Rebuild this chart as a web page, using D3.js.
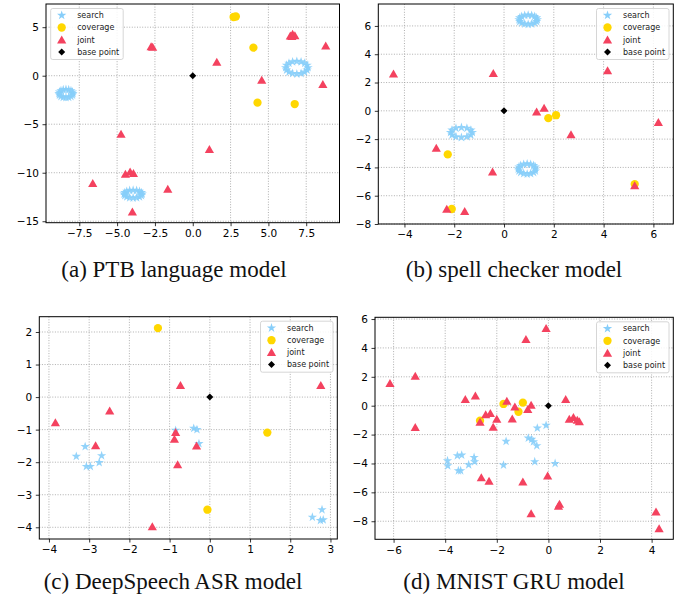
<!DOCTYPE html>
<html>
<head>
  <meta charset="utf-8">
  <title>adversarial search scatter</title>
  <script src="https://d3js.org/d3.v7.min.js"></script>
  <style>
    body { margin: 0; background: #fff; }
    .tick text { font-family: "DejaVu Sans", sans-serif; font-size: 10.5px; fill: #000; }
    .tick line { stroke: #000; stroke-width: 0.8; }
    .grid line { stroke: #9a9a9a; stroke-width: 0.8; stroke-dasharray: 1,1.6; }
    .legend text { font-family: "DejaVu Sans", sans-serif; font-size: 8px; fill: #222; }
    .caption { font-family: "Liberation Serif", serif; font-size: 23px; fill: #111; }
  </style>
</head>
<body>
<svg id="chart" width="681" height="597"></svg>
<script>
  // legend / series names
  var seriesNames = ["search", "coverage", "joint", "base point"];
  var basePoint = [[0, 0]];

  // (a) PTB language model
  var ptbSearch = [
    [-7.92, -1.84], [-7.95, -1.68], [-8.05, -1.54], [-8.20, -1.45], [-8.38, -1.42], [-8.56, -1.45],
    [-8.71, -1.54], [-8.81, -1.68], [-8.84, -1.84], [-8.81, -2.00], [-8.71, -2.14], [-8.56, -2.23],
    [-8.38, -2.26], [-8.20, -2.23], [-8.05, -2.14], [-7.95, -2.00],
    [7.62, 0.83], [7.56, 1.08], [7.40, 1.29], [7.16, 1.43], [6.88, 1.48], [6.60, 1.43],
    [6.36, 1.29], [6.20, 1.08], [6.14, 0.83], [6.20, 0.58], [6.36, 0.37], [6.60, 0.23],
    [6.88, 0.18], [7.16, 0.23], [7.40, 0.37], [7.56, 0.58],
    [-3.34, -12.20], [-3.39, -12.05], [-3.52, -11.92], [-3.71, -11.83], [-3.94, -11.80], [-4.17, -11.83],
    [-4.36, -11.92], [-4.49, -12.05], [-4.54, -12.20], [-4.49, -12.35], [-4.36, -12.48], [-4.17, -12.57],
    [-3.94, -12.60], [-3.71, -12.57], [-3.52, -12.48], [-3.39, -12.35]
  ];
  var ptbCoverage = [[2.70, 6.05], [2.85, 6.10], [4.01, 2.89], [4.28, -2.78], [6.74, -2.92]];
  var ptbJoint = [
    [-2.75, 3.00], [-2.65, 2.95], [1.59, 1.41], [4.56, -0.45],
    [6.45, 4.10], [6.60, 4.30], [6.75, 4.15], [6.55, 4.05],
    [8.79, 3.09], [8.60, -0.89], [-4.74, -6.01], [1.10, -7.59],
    [-4.45, -10.14], [-4.14, -9.90], [-3.92, -10.07], [-6.61, -11.10],
    [-1.65, -11.68], [-3.99, -14.02]
  ];
  var ptbXTicks = [-7.5, -5, -2.5, 0, 2.5, 5, 7.5];
  var ptbYTicks = [-15, -10, -5, 0, 5];

  // (b) spell checker model
  var spellSearch = [
    [1.34, 6.44], [1.31, 6.57], [1.23, 6.67], [1.11, 6.75], [0.97, 6.77], [0.83, 6.75],
    [0.71, 6.67], [0.63, 6.57], [0.60, 6.44], [0.63, 6.31], [0.71, 6.21], [0.83, 6.14],
    [0.97, 6.11], [1.11, 6.14], [1.23, 6.21], [1.31, 6.31],
    [-1.27, -1.53], [-1.33, -1.36], [-1.49, -1.23], [-1.71, -1.18], [-1.93, -1.23], [-2.09, -1.36],
    [-2.15, -1.53], [-2.09, -1.71], [-1.93, -1.83], [-1.71, -1.88], [-1.49, -1.83], [-1.33, -1.71],
    [1.26, -4.11], [1.26, -3.97], [1.19, -3.86], [1.07, -3.78], [0.93, -3.75], [0.79, -3.78],
    [0.67, -3.86], [0.60, -3.97], [0.57, -4.11], [0.60, -4.25], [0.67, -4.36], [0.79, -4.44],
    [0.93, -4.47], [1.07, -4.44], [1.19, -4.36], [1.26, -4.25]
  ];
  var spellCoverage = [[1.78, -0.52], [2.09, -0.31], [-2.26, -3.08], [-2.10, -6.94], [5.25, -5.18]];
  var spellJoint = [
    [-4.44, 2.61], [-0.43, 2.66], [4.16, 2.85], [1.31, -0.07], [1.61, 0.19], [6.20, -0.82],
    [2.69, -1.67], [-2.72, -2.64], [-0.46, -4.31], [-2.30, -6.94], [-1.58, -7.11], [5.25, -5.29]
  ];
  var spellXTicks = [-4, -2, 0, 2, 4, 6];
  var spellYTicks = [-8, -6, -4, -2, 0, 2, 4, 6];

  // (c) DeepSpeech ASR model
  var asrSearch = [
    [-3.10, -1.52], [-3.32, -1.82], [-3.07, -2.13], [-2.97, -2.13], [-2.69, -1.80], [-2.75, -2.01],
    [-0.40, -0.96], [-0.32, -1.00], [-0.27, -1.43], [-0.85, -1.02],
    [2.55, -3.69], [2.79, -3.46], [2.75, -3.79], [2.82, -3.77]
  ];
  var asrCoverage = [[-1.29, 2.12], [1.43, -1.09], [-0.06, -3.46]];
  var asrJoint = [
    [-3.84, -0.78], [-2.49, -0.42], [-0.73, 0.36], [2.76, 0.36], [-2.84, -1.49],
    [-0.85, -1.08], [-0.88, -1.29], [-0.33, -1.50], [-0.80, -2.07], [-1.43, -3.98]
  ];
  var asrXTicks = [-4, -3, -2, -1, 0, 1, 2, 3];
  var asrYTicks = [-4, -3, -2, -1, 0, 1, 2];

  // (d) MNIST GRU model
  var mnistSearch = [
    [-3.91, -3.81], [-3.90, -4.16], [-3.53, -3.46], [-3.36, -3.42], [-3.49, -4.50], [-3.40, -4.50],
    [-3.09, -4.09], [-2.88, -3.58], [-2.86, -3.88], [-1.74, -4.11], [-1.64, -2.47], [-0.78, -2.24],
    [-0.65, -2.33], [-0.58, -2.49], [-0.45, -2.77], [-0.43, -1.55], [-0.09, -1.36], [-0.53, -3.88],
    [0.26, -4.00]
  ];
  var mnistCoverage = [[-1.74, 0.12], [-0.99, 0.21], [-1.16, -0.42], [-2.65, -1.04]];
  var mnistJoint = [
    [-6.14, 1.55], [-5.16, 2.06], [-5.16, -1.50], [-0.87, 4.60], [-0.09, 5.36], [-3.22, 0.44],
    [-2.83, 0.69], [-1.61, 0.32], [-1.30, -0.07], [-0.80, -0.25], [-0.67, 0.05], [-2.43, -0.62],
    [-2.25, -0.53], [-2.65, -1.13], [-2.00, -0.92], [-2.14, -1.48], [-1.40, -0.90], [0.67, 0.44],
    [0.81, -0.92], [0.97, -0.81], [1.12, -0.99], [1.20, -1.09], [-2.60, -4.97], [-2.30, -5.22],
    [-0.99, -5.27], [-0.03, -4.85], [0.43, -6.81], [0.39, -6.95], [-0.67, -7.46], [4.17, -7.34],
    [4.29, -8.50]
  ];
  var mnistXTicks = [-6, -4, -2, 0, 2, 4];
  var mnistYTicks = [-8, -6, -4, -2, 0, 2, 4, 6];

  var colors = ["#87cefa", "#ffd700", "#f4425f", "#000000"];

  var panels = [
    { caption: "(a) PTB language model", box: [46, 4, 339.5, 222.7], capX: 174, capY: 277,
      xDomain: [-9.7, 9.7], yDomain: [-15.15, 7.39], xTicks: ptbXTicks, yTicks: ptbYTicks,
      xFmt: d3.format(".1f"), legend: "left", series: [ptbSearch, ptbCoverage, ptbJoint, basePoint] },
    { caption: "(b) spell checker model", box: [378.3, 4, 673.3, 224], capX: 514, capY: 277,
      xDomain: [-5.05, 6.8], yDomain: [-8, 7.55], xTicks: spellXTicks, yTicks: spellYTicks,
      xFmt: d3.format("d"), legend: "right", series: [spellSearch, spellCoverage, spellJoint, basePoint] },
    { caption: "(c) DeepSpeech ASR model", box: [39.3, 316.7, 337.3, 539], capX: 173, capY: 589,
      xDomain: [-4.24, 3.17], yDomain: [-4.36, 2.47], xTicks: asrXTicks, yTicks: asrYTicks,
      xFmt: d3.format("d"), legend: "right", series: [asrSearch, asrCoverage, asrJoint, basePoint] },
    { caption: "(d) MNIST GRU model", box: [375, 317.3, 673.3, 539.3], capX: 514, capY: 589,
      xDomain: [-6.72, 4.84], yDomain: [-9.25, 6.12], xTicks: mnistXTicks, yTicks: mnistYTicks,
      xFmt: d3.format("d"), legend: "right", series: [mnistSearch, mnistCoverage, mnistJoint, basePoint] }
  ];

  // marker shapes, roughly matplotlib sizes
  function markerPath(i) {
    if (i === 0) return d3.symbol(d3.symbolStar, 27)();
    if (i === 1) return d3.symbol(d3.symbolCircle, 54)();
    if (i === 2) return "M0,-4.3L4.6,3.7L-4.6,3.7Z";
    return "M0,-3.5L3.5,0L0,3.5L-3.5,0Z";
  }

  var svg = d3.select("#chart");
  svg.append("rect").attr("width", 681).attr("height", 597).attr("fill", "#fff");

  panels.forEach(function (p) {
    var w = p.box[2] - p.box[0], h = p.box[3] - p.box[1];
    var g = svg.append("g").attr("transform", "translate(" + p.box[0] + "," + p.box[1] + ")");

    var x = d3.scaleLinear().domain(p.xDomain).range([0, w]);
    var y = d3.scaleLinear().domain(p.yDomain).range([h, 0]);

    // grid
    var grid = g.append("g").attr("class", "grid");
    grid.selectAll(".gx").data(p.xTicks).join("line").attr("class", "gx")
      .attr("x1", d => x(d)).attr("x2", d => x(d)).attr("y1", 0).attr("y2", h);
    grid.selectAll(".gy").data(p.yTicks).join("line").attr("class", "gy")
      .attr("y1", d => y(d)).attr("y2", d => y(d)).attr("x1", 0).attr("x2", w);

    // axes
    var xa = g.append("g").attr("transform", "translate(0," + h + ")")
      .call(d3.axisBottom(x).tickValues(p.xTicks).tickFormat(p.xFmt).tickSize(3.5).tickPadding(3.5));
    var ya = g.append("g")
      .call(d3.axisLeft(y).tickValues(p.yTicks).tickFormat(d3.format("d")).tickSize(3.5).tickPadding(3.5));
    xa.select(".domain").remove();
    ya.select(".domain").remove();
    xa.attr("font-family", null).attr("font-size", null);
    ya.attr("font-family", null).attr("font-size", null);

    // points, drawn in legend order
    var clipId = "clip" + p.caption.charAt(1);
    g.append("clipPath").attr("id", clipId).append("rect").attr("width", w).attr("height", h);
    var pts = g.append("g").attr("clip-path", "url(#" + clipId + ")");
    p.series.forEach(function (data, i) {
      pts.append("g").selectAll("path").data(data).join("path")
        .attr("d", markerPath(i))
        .attr("transform", d => "translate(" + x(d[0]) + "," + y(d[1]) + ")")
        .attr("fill", colors[i])
        .attr("fill-opacity", i === 0 ? 0.9 : 1);
    });

    // frame
    g.append("rect").attr("width", w).attr("height", h)
      .attr("fill", "none").attr("stroke", "#000").attr("stroke-width", 1);

    // legend
    var lw = 72.5, lh = 51;
    var lx = p.legend === "left" ? 4.7 : w - 4.3 - lw;
    var leg = g.append("g").attr("class", "legend").attr("transform", "translate(" + lx + ",4.5)");
    leg.append("rect").attr("width", lw).attr("height", lh).attr("rx", 2)
      .attr("fill", "#fff").attr("fill-opacity", 0.85).attr("stroke", "#cccccc").attr("stroke-width", 0.8);
    seriesNames.forEach(function (name, i) {
      var ry = 6.8 + i * 12.2;
      leg.append("path").attr("d", markerPath(i))
        .attr("transform", "translate(11," + ry + ")")
        .attr("fill", colors[i]);
      leg.append("text").attr("x", 26.5).attr("y", ry + 2.9).text(name);
    });

    // caption
    svg.append("text").attr("class", "caption").attr("x", p.capX).attr("y", p.capY)
      .attr("text-anchor", "middle").text(p.caption);
  });
</script>
</body>
</html>
